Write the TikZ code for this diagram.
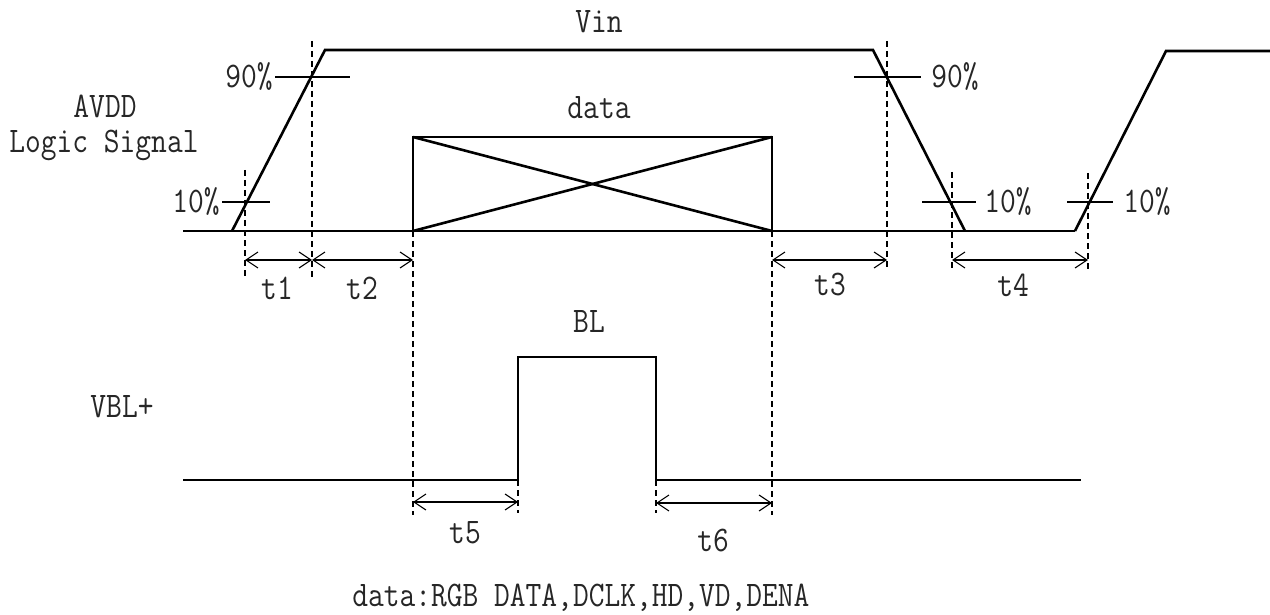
\documentclass[tikz,border=0pt]{standalone}
\usepackage{fontspec}
\newfontfamily\dfont[FakeStretch=0.85]{Latin Modern Mono}
\usetikzlibrary{arrows.meta}
\begin{document}
\begin{tikzpicture}[x=0.5pt,y=-0.5pt,
  wave/.style={line width=1.3pt, line join=miter},
  tickln/.style={line width=0.55pt},
  guide/.style={line width=0.55pt, dash pattern=on 3pt off 2pt},
  dim/.style={line width=0.55pt, {Straight Barb[length=6pt,width=8pt]}-{Straight Barb[length=6pt,width=8pt]}},
  lbl/.style={font=\dfont\fontsize{18}{21}\selectfont, text=black!85, inner sep=0pt}]
\useasboundingbox (0,0) rectangle (1270,615);

% ---- top waveform (AVDD / Logic Signal) ----
\draw[wave] (183,231) -- (1075,231);
\draw[wave] (232,231) -- (325,50) -- (873,50) -- (965,231);
\draw[wave] (1075,231) -- (1166,51) -- (1270,51);

% data box
\draw[wave] (413,137) rectangle (772,231);
\draw[wave] (413,137) -- (772,231);
\draw[wave] (413,231) -- (772,137);

% level ticks
\draw[tickln] (275,77) -- (350,77);
\draw[tickln] (222,202) -- (270,202);
\draw[tickln] (854,77) -- (921,77);
\draw[tickln] (922,202) -- (976,202);
\draw[tickln] (1067,202) -- (1113,202);

% guides
\draw[guide] (245,170) -- (245,277);
\draw[guide] (312,41) -- (312,277);
\draw[guide] (413,231) -- (413,515);
\draw[guide] (772,231) -- (772,515);
\draw[guide] (887,41) -- (887,270);
\draw[guide] (952,172) -- (952,270);
\draw[guide] (1088,173) -- (1088,270);
\draw[guide] (518,480) -- (518,513);
\draw[guide] (656,480) -- (656,513);

% dimension anchor points
\coordinate (a1) at (245,260);
\coordinate (a2) at (312,260);
\coordinate (a3) at (413,260);
\coordinate (a4) at (772,260);
\coordinate (a5) at (887,260);
\coordinate (a6) at (952,260);
\coordinate (a7) at (1088,260);
\coordinate (b1) at (413,502);
\coordinate (b2) at (518,502);
\coordinate (b3) at (656,503);
\coordinate (b4) at (772,503);

\draw[dim] (a1) -- (a2);
\draw[dim] (a2) -- (a3);
\draw[dim] (a4) -- (a5);
\draw[dim] (a6) -- (a7);
\draw[dim] (b1) -- (b2);
\draw[dim] (b3) -- (b4);

% ---- VBL+ waveform ----
\draw[wave] (183,480) -- (518,480) -- (518,357) -- (656,357) -- (656,480) -- (1081,480);

% ---- labels ----
\node[lbl] (vin) at (599,22) {Vin};
\node[lbl] (data) at (599,108) {data};
\node[lbl, anchor=base] (avdd) at (105,118) {AVDD};
\node[lbl, anchor=base] (logic) at (104,153) {Logic Signal};
\node[lbl, anchor=east] (p90a) at (273,77) {90\%};
\node[lbl, anchor=east] (p10a) at (220,202) {10\%};
\node[lbl, anchor=west] (p90b) at (931,77) {90\%};
\node[lbl, anchor=west] (p10b) at (984,202) {10\%};
\node[lbl, anchor=west] (p10c) at (1123,202) {10\%};
\node[lbl] (t1) at (277,288) {t1};
\node[lbl] (t2) at (362,288) {t2};
\node[lbl] (t3) at (830,285) {t3};
\node[lbl] (t4) at (1013,285) {t4};
\node[lbl] (bl) at (589,322) {BL};
\node[lbl] (vbl) at (122,407) {VBL+};
\node[lbl] (t5) at (465,533) {t5};
\node[lbl] (t6) at (713,540) {t6};
\node[lbl, anchor=base west] (note) at (352,606) {data:RGB DATA,DCLK,HD,VD,DENA};
\end{tikzpicture}
\end{document}
